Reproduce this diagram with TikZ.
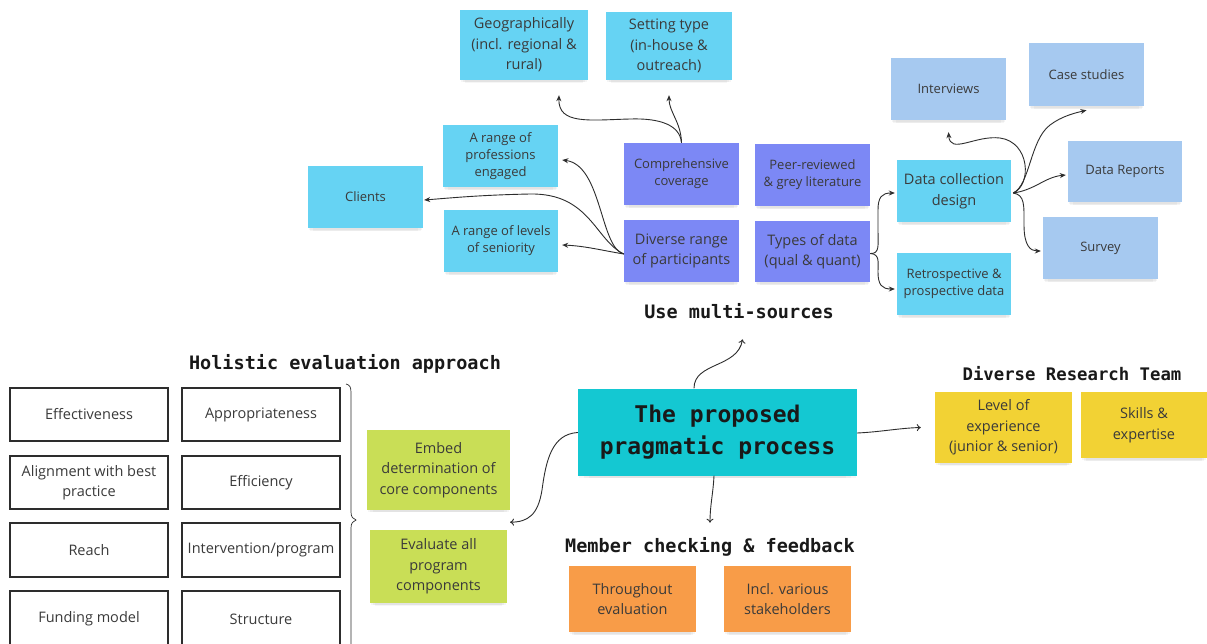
\documentclass[tikz,border=0pt]{standalone}
\usepackage{fontspec}
\setmainfont{Open Sans}
\newfontfamily\titlefont{DejaVu Sans Mono}
\usetikzlibrary{shadows,arrows.meta}
\definecolor{cyanN}{RGB}{102,211,243}
\definecolor{purpN}{RGB}{124,136,245}
\definecolor{blueN}{RGB}{166,201,240}
\definecolor{tealN}{RGB}{20,200,210}
\definecolor{yellowN}{RGB}{242,210,52}
\definecolor{greenN}{RGB}{201,222,86}
\definecolor{orangeN}{RGB}{248,156,72}
\definecolor{noteText}{RGB}{58,58,58}
\definecolor{lineC}{RGB}{45,45,45}
\tikzset{
  note/.style={rectangle, text=noteText, align=center, inner sep=2pt,
    drop shadow={shadow xshift=0pt, shadow yshift=-6pt, shadow scale=0.92, opacity=0.07},
    drop shadow={shadow xshift=0pt, shadow yshift=-4pt, shadow scale=0.96, opacity=0.08},
    drop shadow={shadow xshift=0pt, shadow yshift=-2.5pt, shadow scale=0.99, opacity=0.08}},
  smallT/.style={font=\fontsize{13}{17}\selectfont},
  bigT/.style={font=\fontsize{14.5}{20.5}\selectfont},
  cyannote/.style={note, fill=cyanN},
  purpnote/.style={note, fill=purpN},
  bluenote/.style={note, fill=blueN},
  yellownote/.style={note, fill=yellowN, bigT},
  greennote/.style={note, fill=greenN, bigT},
  orangenote/.style={note, fill=orangeN, bigT},
  gridbox/.style={rectangle, draw=lineC, line width=1.1pt, text=noteText, align=center,
    minimum width=158pt, bigT},
  titleT/.style={font=\titlefont\bfseries\fontsize{18.5}{22}\selectfont, text=black!90},
  conn/.style={draw=lineC, line width=0.9pt, -{Stealth[length=6pt,width=5pt]}},
  connB/.style={draw=lineC, line width=0.9pt, -{To[length=4pt,width=7pt]}},
}
\begin{document}
\begin{tikzpicture}[x=1pt,y=-1pt]
\useasboundingbox (0,0) rectangle (1207,643);
\fill[white] (0,0) rectangle (1207,643);

% --- top cluster ---
\node[cyannote, bigT, minimum width=128pt, minimum height=70pt] (geo) at (524,45) {Geographically\\(incl. regional \&\\rural)};
\node[cyannote, bigT, minimum width=126pt, minimum height=68pt] (set) at (669,46) {Setting type\\(in-house \&\\outreach)};
\node[bluenote, smallT, minimum width=115pt, minimum height=62pt] (int) at (948.5,89) {Interviews};
\node[bluenote, smallT, minimum width=115pt, minimum height=63pt] (case) at (1086.5,74.5) {Case studies};
\node[cyannote, smallT, minimum width=115pt, minimum height=62pt] (prof) at (500.5,156) {A range of\\professions\\engaged};
\node[purpnote, smallT, minimum width=115pt, minimum height=62pt] (comp) at (681.5,174) {Comprehensive\\coverage};
\node[purpnote, smallT, minimum width=115pt, minimum height=62pt] (peer) at (812.5,175) {Peer-reviewed\\\& grey literature};
\node[cyannote, bigT, minimum width=114pt, minimum height=62pt] (dcd) at (954,191) {Data collection\\design};
\node[bluenote, smallT, minimum width=114pt, minimum height=61pt] (rep) at (1125,171.5) {Data Reports};
\node[cyannote, smallT, minimum width=115pt, minimum height=62pt] (cli) at (365.5,197) {Clients};
\node[cyannote, smallT, minimum width=114pt, minimum height=62pt] (lev) at (501,241) {A range of levels\\of seniority};
\node[purpnote, bigT, minimum width=115pt, minimum height=62pt] (div) at (681.5,251) {Diverse range\\of participants};
\node[purpnote, bigT, minimum width=115pt, minimum height=61pt] (typ) at (812.5,251.5) {Types of data\\(qual \& quant)};
\node[bluenote, smallT, minimum width=115pt, minimum height=62pt] (sur) at (1100.5,248) {Survey};
\node[cyannote, smallT, minimum width=114pt, minimum height=62pt] (ret) at (954,284) {Retrospective \&\\prospective data};

\node[titleT] (multi) at (739,311) {Use multi-sources};

% --- main ---
\node[note, fill=tealN, text=black!90, minimum width=279pt, minimum height=87pt,
  font=\titlefont\bfseries\fontsize{23}{32}\selectfont] (main) at (717.5,432) {The proposed\\pragmatic process};

% --- research team ---
\node[titleT, font=\titlefont\bfseries\fontsize{17.3}{22}\selectfont] (drt) at (1072,374) {Diverse Research Team};
\node[yellownote, minimum width=137pt, minimum height=71pt] (levexp) at (1003.5,427.5) {Level of\\experience\\(junior \& senior)};
\node[yellownote, minimum width=126pt, minimum height=66pt] (skill) at (1144,425) {Skills \&\\expertise};

% --- member checking ---
\node[titleT] (mem) at (710,547) {Member checking \& feedback};
\node[orangenote, minimum width=127pt, minimum height=66pt] (thr) at (632.5,599) {Throughout\\evaluation};
\node[orangenote, minimum width=127pt, minimum height=66pt] (incl) at (787.5,599) {Incl. various\\stakeholders};

% --- holistic ---
\node[titleT] (hol) at (345,364) {Holistic evaluation approach};
\node[gridbox, minimum height=53pt] (g11) at (89,414.5) {Effectiveness};
\node[gridbox, minimum height=53pt] (g12) at (261,414.5) {Appropriateness};
\node[gridbox, minimum height=53pt] (g21) at (89,482.5) {Alignment with best\\practice};
\node[gridbox, minimum height=53pt] (g22) at (261,482.5) {Efficiency};
\node[gridbox, minimum height=54pt] (g31) at (89,550) {Reach};
\node[gridbox, minimum height=54pt] (g32) at (261,550) {Intervention/program};
\node[gridbox, minimum height=56pt] (g41) at (89,619) {Funding model};
\node[gridbox, minimum height=56pt] (g42) at (261,619) {Structure};

\draw[draw=lineC, line width=0.7pt] (346,384) .. controls (350,385) and (351,387) .. (351,393)
  -- (351,512) .. controls (351,517) and (353,519) .. (356,520)
  .. controls (353,521) and (351,523) .. (351,528) -- (351,650);

\node[greennote, minimum width=143pt, minimum height=80pt] (emb) at (438.5,470) {Embed\\determination of\\core components};
\node[greennote, minimum width=137pt, minimum height=73pt] (eva) at (438.5,566.5) {Evaluate all\\program\\components};

% --- connectors (top) ---
\draw[conn] (comp.north) .. controls (680,125) and (660,118) .. (630,119)
  .. controls (590,120) and (558,125) .. ([xshift=35pt,yshift=-15pt]geo.south);
\draw[conn] (comp.north) .. controls (681,122) and (669,112) .. ([yshift=-15pt]set.south);
\draw[conn] ([yshift=-3pt]div.west) .. controls (600,248) and (602,165) .. ([xshift=4pt,yshift=-4pt]prof.east);
\draw[conn] ([yshift=-3pt]div.west) .. controls (595,240) and (590,193) .. (530,194)
  .. controls (480,195) and (450,198) .. ([xshift=1pt,yshift=-3pt]cli.east);
\draw[conn] ([yshift=-3pt]div.west) .. controls (600,250) and (585,246) .. ([xshift=4pt,yshift=-4pt]lev.east);
\draw[conn] ([yshift=-2pt]typ.east) .. controls (880,254) and (878,245) .. (878,230) -- (878,210)
  .. controls (878,197) and (882,193) .. ([xshift=-2pt,yshift=-2pt]dcd.west);
\draw[conn] ([yshift=-2pt]typ.east) .. controls (880,254) and (878,262) .. (878,272)
  .. controls (878,285) and (882,289) .. ([xshift=-2pt,yshift=-5pt]ret.west);
\draw[conn] ([xshift=2pt,yshift=-2pt]dcd.east) .. controls (1032,185) and (1030,142) .. (1000,138)
  .. controls (975,135) and (950,155) .. ([yshift=-12pt]int.south);
\draw[conn] ([xshift=2pt,yshift=-2pt]dcd.east) .. controls (1030,185) and (1030,140) .. (1050,125)
  .. controls (1062,116) and (1075,113) .. ([yshift=-4pt]case.south);
\draw[conn] ([xshift=2pt,yshift=-2pt]dcd.east) .. controls (1035,190) and (1045,177) .. ([xshift=-2pt,yshift=-3.5pt]rep.west);
\draw[conn] ([xshift=2pt,yshift=-2pt]dcd.east) .. controls (1025,195) and (1024,205) .. (1024,225)
  .. controls (1024,245) and (1030,251) .. ([xshift=-2pt,yshift=-3pt]sur.west);

% --- connectors (main) ---
\draw[connB] ([xshift=-23.5pt]main.north) .. controls (694,362) and (738,368) .. ([xshift=25pt,yshift=49pt]main.north);
\draw[connB] ([yshift=-1pt]main.east) .. controls (880,432) and (900,428) .. ([xshift=-14pt]levexp.west);
\draw[connB] ([xshift=-3.5pt]main.south) .. controls (713,495) and (710,505) .. ([xshift=-7.5pt,yshift=-47pt]main.south);
\draw[connB] ([yshift=-0.5pt]main.west) .. controls (552,434) and (546,460) .. (542,490)
  .. controls (538,515) and (528,522) .. ([xshift=71.5pt,yshift=-12pt]emb.south);
\end{tikzpicture}
\end{document}
